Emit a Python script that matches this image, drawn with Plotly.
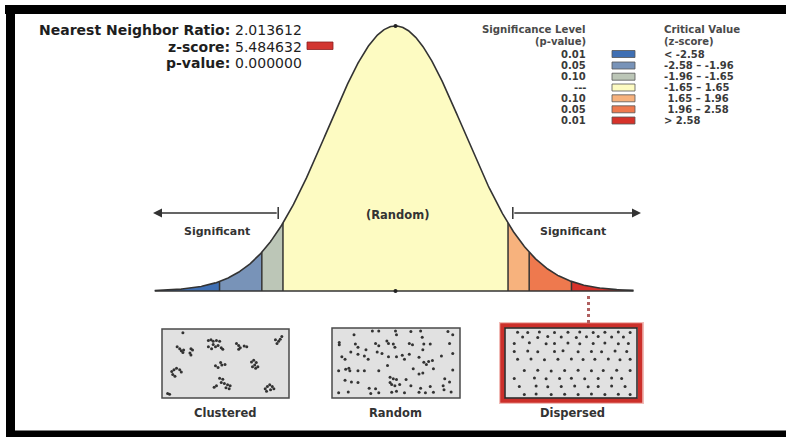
import math
import plotly.graph_objects as go

# ---------------- data ----------------
nn_ratio = "2.013612"
z_score = "5.484632"
p_value = "0.000000"

critical_values = [-2.58, -1.96, -1.65, 1.65, 1.96, 2.58]
z_extent = [-3.53, 3.49]
band_colors = ["#3f6fb3", "#7893b8", "#bcc6b7", "#fdfbc2", "#f7b27d", "#ee794e", "#d6322a"]

legend_p = ["0.01", "0.05", "0.10", "---", "0.10", "0.05", "0.01"]
legend_z = ["< -2.58", "-2.58 \u2013 -1.96", "-1.96 \u2013 -1.65", "-1.65 \u2013 1.65",
            " 1.65 \u2013 1.96", " 1.96 \u2013 2.58", "> 2.58"]
pattern_labels = ["Clustered", "Random", "Dispersed"]
marker_z = 2.83  # dotted pointer position under the red tail

clustered_x = [0.151, 0.104, 0.125, 0.138, 0.157, 0.151, 0.217, 0.230, 0.209, 0.217,
               0.360, 0.381, 0.399, 0.426, 0.452, 0.360, 0.386, 0.418, 0.439, 0.465, 0.478, 0.399,
               0.590, 0.608, 0.621, 0.653, 0.674, 0.608,
               0.909, 0.935, 0.961, 0.948, 0.922,
               0.060, 0.078, 0.099, 0.125, 0.138, 0.068, 0.086,
               0.418, 0.439, 0.460, 0.470, 0.496,
               0.713, 0.731, 0.752, 0.739, 0.721, 0.765, 0.747,
               0.452, 0.478, 0.465, 0.491, 0.517, 0.538, 0.426, 0.407, 0.504, 0.530,
               0.825, 0.843, 0.862, 0.883, 0.896, 0.836, 0.869,
               0.026, 0.042]
clustered_y = [0.029, 0.243, 0.272, 0.306, 0.291, 0.330, 0.272, 0.291, 0.340, 0.369,
               0.146, 0.136, 0.160, 0.146, 0.160, 0.243, 0.272, 0.243, 0.223, 0.257, 0.282, 0.209,
               0.194, 0.223, 0.257, 0.233, 0.243, 0.282,
               0.136, 0.160, 0.087, 0.126, 0.194,
               0.621, 0.597, 0.573, 0.597, 0.631, 0.670, 0.694,
               0.534, 0.563, 0.485, 0.524, 0.515,
               0.476, 0.451, 0.485, 0.524, 0.549, 0.549, 0.573,
               0.728, 0.743, 0.791, 0.806, 0.825, 0.840, 0.840, 0.864, 0.874, 0.888,
               0.888, 0.854, 0.825, 0.854, 0.888, 0.927, 0.903,
               0.961, 0.971]

random_x = [0.159, 0.308, 0.360, 0.496, 0.504, 0.621, 0.700, 0.713, 0.922, 0.961,
            0.039, 0.039, 0.170, 0.191, 0.256, 0.334, 0.360, 0.426, 0.439, 0.478, 0.491,
            0.608, 0.634, 0.726, 0.718, 0.778, 0.935,
            0.133, 0.191, 0.243, 0.274, 0.347, 0.386, 0.439, 0.504, 0.551, 0.569, 0.608,
            0.687, 0.726, 0.747, 0.765, 0.796, 0.869, 0.961, 0.060, 0.086,
            0.034, 0.091, 0.117, 0.125, 0.191, 0.243, 0.360, 0.431, 0.640, 0.687, 0.718,
            0.804, 0.961,
            0.086, 0.138, 0.191, 0.282, 0.334, 0.360, 0.452, 0.478, 0.504, 0.452, 0.465,
            0.491, 0.530, 0.582, 0.621, 0.700, 0.739, 0.778, 0.883, 0.890, 0.948,
            0.034, 0.112, 0.295, 0.465, 0.504, 0.569, 0.687, 0.804, 0.896, 0.935]
random_y = [0.071, 0.014, 0.014, 0.014, 0.071, 0.024, 0.014, 0.110, 0.024, 0.071,
            0.190, 0.224, 0.214, 0.262, 0.300, 0.205, 0.238, 0.167, 0.205, 0.214, 0.262,
            0.205, 0.224, 0.214, 0.300, 0.214, 0.205,
            0.333, 0.367, 0.395, 0.443, 0.333, 0.357, 0.405, 0.405, 0.381, 0.443, 0.367,
            0.414, 0.490, 0.524, 0.476, 0.462, 0.395, 0.357, 0.405, 0.443,
            0.619, 0.595, 0.581, 0.619, 0.619, 0.619, 0.619, 0.538, 0.586, 0.667, 0.652,
            0.586, 0.605,
            0.762, 0.786, 0.795, 0.881, 0.890, 0.952, 0.714, 0.738, 0.748, 0.795, 0.824,
            0.843, 0.824, 0.748, 0.843, 0.881, 0.952, 0.857, 0.843, 0.905, 0.938,
            0.952, 0.938, 0.962, 0.943, 0.929, 0.952, 0.943, 0.943, 0.738, 0.786]

dispersed_x = [0.079, 0.159, 0.251, 0.370, 0.476, 0.569, 0.675, 0.767, 0.873, 0.966,
               0.119, 0.238, 0.317, 0.423, 0.542, 0.622, 0.714, 0.820, 0.913,
               0.053, 0.172, 0.304, 0.370, 0.476, 0.569, 0.675, 0.767, 0.873, 0.952,
               0.053, 0.159, 0.238, 0.370, 0.437, 0.556, 0.661, 0.741, 0.847, 0.939,
               0.079, 0.185, 0.291, 0.397, 0.503, 0.595, 0.688, 0.794, 0.886, 0.966,
               0.132, 0.238, 0.344, 0.450, 0.556, 0.661, 0.754, 0.860, 0.966,
               0.053, 0.212, 0.304, 0.410, 0.503, 0.608, 0.714, 0.820, 0.899,
               0.093, 0.225, 0.317, 0.423, 0.529, 0.635, 0.714, 0.820, 0.926,
               0.132, 0.225, 0.344, 0.450, 0.556, 0.661, 0.767, 0.873, 0.966]
dispersed_y = [0.034, 0.040, 0.030, 0.038, 0.034, 0.030, 0.040, 0.034, 0.030, 0.038,
               0.106, 0.112, 0.100, 0.106, 0.112, 0.104, 0.100, 0.108, 0.106,
               0.203, 0.195, 0.210, 0.203, 0.198, 0.207, 0.203, 0.196, 0.208, 0.203,
               0.324, 0.318, 0.330, 0.324, 0.316, 0.328, 0.324, 0.330, 0.320, 0.324,
               0.444, 0.438, 0.450, 0.444, 0.440, 0.448, 0.444, 0.438, 0.450, 0.444,
               0.614, 0.608, 0.620, 0.614, 0.610, 0.618, 0.614, 0.608, 0.614,
               0.734, 0.728, 0.740, 0.734, 0.730, 0.738, 0.734, 0.728, 0.734,
               0.855, 0.850, 0.860, 0.855, 0.848, 0.858, 0.855, 0.850, 0.855,
               0.976, 0.970, 0.976, 0.972, 0.976, 0.970, 0.976, 0.972, 0.976]

# ---------------- layout geometry (pixels) ----------------
W, H = 786, 437
Z0PX, ZSCALE = 395.5, 68.2          # x pixel of z=0, pixels per z unit
BASEPX, YSCALE = 291.0, 664.3       # y pixel of density 0, pixels per density unit


def px(x):
    return x / W


def py(y):
    return 1 - y / H


def zpx(xp):
    return (xp - Z0PX) / ZSCALE


def dpx(yp):
    return (BASEPX - yp) / YSCALE


def pdf(z):
    return math.exp(-0.5 * z * z) / math.sqrt(2 * math.pi)


FONT = "DejaVu Sans"
DARK = "#2b2b2b"

fig = go.Figure()

# bands under the curve
breaks = [z_extent[0]] + critical_values + [z_extent[1]]
for i in range(len(breaks) - 1):
    a, b = breaks[i], breaks[i + 1]
    n = 80
    zs = [a + (b - a) * k / n for k in range(n + 1)]
    ys = [pdf(z) for z in zs]
    fig.add_trace(go.Scatter(x=zs + [b, a, a], y=ys + [0, 0, ys[0]], mode="lines",
                             fill="toself", fillcolor=band_colors[i],
                             line=dict(width=0), hoverinfo="skip", showlegend=False))

# separators
for c in critical_values:
    fig.add_trace(go.Scatter(x=[c, c], y=[0, pdf(c)], mode="lines",
                             line=dict(color="#333333", width=1.5),
                             hoverinfo="skip", showlegend=False))

# curve outline
n = 600
zs = [z_extent[0] + (z_extent[1] - z_extent[0]) * k / n for k in range(n + 1)]
fig.add_trace(go.Scatter(x=zs, y=[pdf(z) for z in zs], mode="lines",
                         line=dict(color="#333333", width=1.6),
                         hoverinfo="skip", showlegend=False))
# baseline
fig.add_trace(go.Scatter(x=z_extent, y=[0, 0], mode="lines",
                         line=dict(color="#333333", width=1.6),
                         hoverinfo="skip", showlegend=False))
# center dot & peak tick
fig.add_trace(go.Scatter(x=[0, 0], y=[0, pdf(0)], mode="markers",
                         marker=dict(color="#222", size=4),
                         hoverinfo="skip", showlegend=False))

# pattern boxes: axes
boxes = [(162, 289, 329, 398), (332, 460, 328, 398), (505, 637, 328, 398)]
pts = [(clustered_x, clustered_y), (random_x, random_y), (dispersed_x, dispersed_y)]
for i, ((x0, x1, y0, y1), (bx, by)) in enumerate(zip(boxes, pts)):
    k = i + 2
    fig.add_trace(go.Scatter(x=bx, y=by, mode="markers", xaxis=f"x{k}", yaxis=f"y{k}",
                             marker=dict(color="#333333", size=3),
                             hoverinfo="skip", showlegend=False, cliponaxis=False))
    fig.update_layout(**{
        f"xaxis{k}": dict(domain=[px(x0), px(x1)], range=[-0.02, 1.02], visible=False,
                          anchor=f"y{k}", fixedrange=True),
        f"yaxis{k}": dict(domain=[py(y1), py(y0)], range=[1.03, -0.03], visible=False,
                          anchor=f"x{k}", fixedrange=True),
    })

shapes = []
# dispersed highlight frame
shapes.append(dict(type="rect", xref="paper", yref="paper", x0=px(500.5), x1=px(642.5),
                   y0=py(402.5), y1=py(323.5), line=dict(color="rgba(214,60,50,0.35)", width=3),
                   layer="below"))
shapes.append(dict(type="rect", xref="paper", yref="paper", x0=px(502.5), x1=px(640),
                   y0=py(400.5), y1=py(325.5), line=dict(color="#cc2f2a", width=4.5),
                   layer="below"))
for k, (x0, x1, y0, y1) in enumerate(boxes):
    shapes.append(dict(type="rect", xref="paper", yref="paper", x0=px(x0), x1=px(x1),
                       y0=py(y1), y1=py(y0), fillcolor="#e1e1e1",
                       line=dict(color="#4a4a4a" if k < 2 else "#222", width=1.5),
                       layer="below"))

# dotted pointer
shapes.append(dict(type="line", xref="x", yref="paper", x0=marker_z, x1=marker_z,
                   y0=py(323), y1=py(294), line=dict(color="#b06060", width=3, dash="dot")))

# arrows: end bars
for xb in (-1.72, 1.72):
    shapes.append(dict(type="line", xref="x", yref="paper", x0=xb, x1=xb,
                       y0=py(219), y1=py(207), line=dict(color="#333", width=1.5)))

# legend swatches
leg_rows = [54, 65.5, 76.7, 87.5, 98.3, 109.3, 120.5]
for yr, col in zip(leg_rows, band_colors):
    shapes.append(dict(type="rect", xref="paper", yref="paper", x0=px(612), x1=px(635),
                       y0=py(yr + 3.5), y1=py(yr - 3.5), fillcolor=col,
                       line=dict(color="#555", width=0.8)))
# z-score swatch
shapes.append(dict(type="rect", xref="paper", yref="paper", x0=px(307), x1=px(333),
                   y0=py(49.5), y1=py(42), fillcolor="#d23530",
                   line=dict(color="#8a2020", width=0.8)))

# black frame
shapes.append(dict(type="rect", xref="paper", yref="paper", x0=px(5), x1=1,
                   y0=py(14), y1=py(5), fillcolor="black", line=dict(width=0)))
shapes.append(dict(type="rect", xref="paper", yref="paper", x0=px(6), x1=px(15),
                   y0=0, y1=py(5), fillcolor="black", line=dict(width=0)))
shapes.append(dict(type="rect", xref="paper", yref="paper", x0=px(6), x1=1,
                   y0=0, y1=py(430.5), fillcolor="black", line=dict(width=0)))

ann = []


def text(x, y, s, size, anchor="center", color=DARK):
    ann.append(dict(x=px(x), y=py(y), xref="paper", yref="paper", text=s, showarrow=False,
                    xanchor=anchor, yanchor="middle", borderpad=0,
                    font=dict(family=FONT, size=size, color=color)))


# statistics block
labels = ["Nearest Neighbor Ratio:", "z-score:", "p-value:"]
values = [nn_ratio, z_score, p_value]
for yr, lab, val in zip([30, 46.5, 63], labels, values):
    text(231, yr, f"<b>{lab}</b>", 14, "right", "#1e1e1e")
    text(234, yr, val, 14, "left", "#1e1e1e")

# legend
LEG_FS = 10
text(587, 29.5, "<b>Significance Level</b>", 10.2, "right", "#4a4a4a")
text(587, 41.5, "<b>(p-value)</b>", 10, "right", "#4a4a4a")
text(663, 29.5, "<b>Critical Value</b>", 10.2, "left", "#4a4a4a")
text(663, 41.5, "<b>(z-score)</b>", 10, "left", "#4a4a4a")
for yr, p, zt in zip(leg_rows, legend_p, legend_z):
    text(587, yr, f"<b>{p}</b>", LEG_FS, "right", "#3a3a3a")
    zt_html = ("&nbsp;" + zt[1:]) if zt.startswith(" ") else zt
    text(663, yr, f"<b>{zt_html}</b>", LEG_FS, "left", "#3a3a3a")

# curve labels
text(217, 232, "<b>Significant</b>", 11, "center", "#333")
text(573, 232, "<b>Significant</b>", 11, "center", "#333")
text(397, 215, "<b>(Random)</b>", 11.5, "center", "#333")

# pattern labels
for xl, lab in zip([225, 396, 572], pattern_labels):
    text(xl, 413, f"<b>{lab}</b>", 11.5, "center", "#333")

# arrows
ay = dpx(213)
ann.append(dict(x=zpx(153), y=ay, ax=-1.72, ay=ay, xref="x", yref="y", axref="x", ayref="y",
                text="", showarrow=True, arrowhead=2, arrowsize=1.2, arrowwidth=1.5,
                arrowcolor="#333"))
ann.append(dict(x=zpx(641), y=ay, ax=1.72, ay=ay, xref="x", yref="y", axref="x", ayref="y",
                text="", showarrow=True, arrowhead=2, arrowsize=1.2, arrowwidth=1.5,
                arrowcolor="#333"))

fig.update_layout(
    width=W, height=H,
    margin=dict(l=0, r=0, t=0, b=0),
    paper_bgcolor="white", plot_bgcolor="rgba(0,0,0,0)",
    xaxis=dict(domain=[0, 1], range=[zpx(0), zpx(W)], visible=False, fixedrange=True),
    yaxis=dict(domain=[0, 1], range=[dpx(H), dpx(0)], visible=False, fixedrange=True),
    shapes=shapes, annotations=ann, showlegend=False,
)

fig.write_html("out.html", config={"displayModeBar": False},
               post_script="document.body.style.margin='0';document.body.style.padding='0';"
                           "document.documentElement.style.overflow='hidden';")
